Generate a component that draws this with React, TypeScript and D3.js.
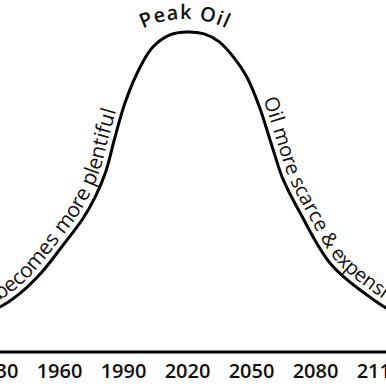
import React, { useRef, useEffect } from 'react'
import * as d3 from 'd3'

// production curve (0 = axis, 100 = peak)
const years = [1925, 1932, 1942, 1952, 1962, 1971, 1977, 1982, 1986, 1991, 1998, 2004, 2012, 2020, 2028, 2035, 2042, 2048, 2054, 2060, 2065, 2073, 2088, 2109, 2118]
const production = [12.5, 14, 18.5, 25, 33.5, 41.5, 48.5, 56.5, 66.5, 78, 89, 95.3, 99.1, 100, 99.4, 97, 92, 86, 76.5, 64, 54, 43.5, 27, 15.6, 11.9]
const tickYears = [1930, 1960, 1990, 2020, 2050, 2080, 2110]
const peakYear = 2020

const leftLabel = 'becomes more plentiful'
const rightLabel = 'Oil more scarce & expensive'
const peakLabel = 'Peak Oil'

const width = 386
const height = 386
const font = '"Open Sans", "Noto Sans", sans-serif'

type Pt = { yr: number; v: number }

const App = () => {
  const ref = useRef<SVGSVGElement>(null)

  useEffect(() => {
    const svg = d3.select(ref.current)
    svg.selectAll('*').remove()

    const x = d3.scaleLinear().domain([1930, 2110]).range([-5, 379])
    const y = d3.scaleLinear().domain([0, 100]).range([352, 32])

    const data: Pt[] = years.map((yr, i) => ({ yr, v: production[i] }))
    const line = d3.line<Pt>().x(d => x(d.yr)).y(d => y(d.v)).curve(d3.curveCatmullRom.alpha(0.5))

    const path = svg.append('path').attr('id', 'curve').attr('d', line(data))
      .attr('fill', 'none').attr('stroke', '#000').attr('stroke-width', 3)

    const node = path.node() as SVGPathElement
    const total = node.getTotalLength()
    // arc length where the curve reaches a given x
    const lengthAt = (px: number) => {
      let lo = 0, hi = total
      for (let i = 0; i < 40; i++) {
        const mid = (lo + hi) / 2
        if (node.getPointAtLength(mid).x < px) lo = mid
        else hi = mid
      }
      return lo
    }

    // axis
    svg.append('line').attr('x1', 0).attr('x2', width).attr('y1', y(0)).attr('y2', y(0))
      .attr('stroke', '#000').attr('stroke-width', 3)
    const axis = svg.append('g').attr('transform', `translate(0,${y(0)})`)
      .call(d3.axisBottom(x).tickValues(tickYears).tickSize(0).tickPadding(12).tickFormat(d3.format('d')))
      .attr('font-family', font).attr('font-size', 20)
    axis.select('.domain').remove()
    axis.selectAll('text').attr('font-weight', 600).attr('fill', '#111')

    const addLabel = (text: string, year: number, anchor: string, dy: number, size: number) => {
      svg.append('text').attr('font-family', font).attr('font-size', size).attr('font-weight', 500)
        .attr('text-anchor', anchor).attr('dy', dy).attr('fill', '#111')
        .append('textPath').attr('href', '#curve')
        .attr('startOffset', lengthAt(x(year))).text(text)
    }
    addLabel(leftLabel, 1989.5, 'end', -6, 21)
    addLabel(rightLabel, 2053, 'start', -6, 20)

    // "Peak Oil" sits on a wider arc above the top of the curve
    const r = 95
    const cx = x(peakYear) - 2
    const cy = y(100) - 13 + r
    const arc = d3.path()
    arc.arc(cx, cy, r, -Math.PI / 2 - 0.75, -Math.PI / 2 + 0.75)
    svg.append('path').attr('id', 'peakArc').attr('d', arc.toString()).attr('fill', 'none')
    svg.append('text').attr('font-family', font).attr('font-size', 20).attr('font-weight', 600)
      .attr('letter-spacing', 1).attr('text-anchor', 'middle').attr('fill', '#111')
      .append('textPath').attr('href', '#peakArc').attr('startOffset', '50%').text(peakLabel)
  }, [])

  return (
    <svg ref={ref} width={width} height={height}
      style={{ position: 'absolute', left: 0, top: 0, background: '#fff' }} />
  )
}

export default App
